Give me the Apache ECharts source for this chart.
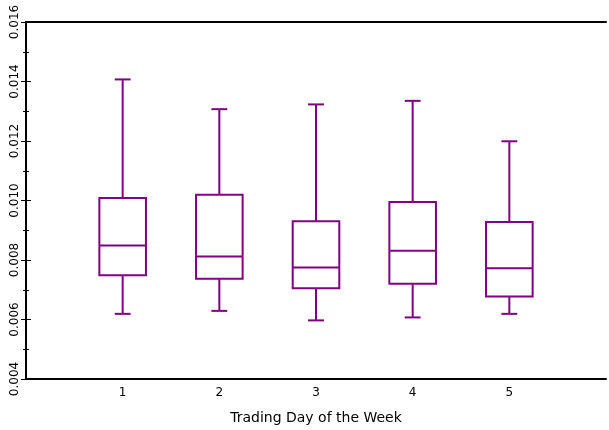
<!DOCTYPE html>
<html>
<head>
<meta charset="utf-8">
<script src="https://cdn.jsdelivr.net/npm/echarts@6/dist/echarts.min.js"></script>
<style>html,body{margin:0;padding:0;background:#fff;overflow:hidden}#c{width:609px;height:430px}</style>
</head>
<body>
<div id="c"></div>
<script>
var days = [1, 2, 3, 4, 5];
var whiskerLow  = [0.00619, 0.00629, 0.00597, 0.00607, 0.00619];
var q1          = [0.00749, 0.00737, 0.00705, 0.00720, 0.00677];
var median      = [0.00849, 0.00812, 0.00775, 0.00831, 0.00772];
var q3          = [0.01008, 0.01019, 0.00930, 0.00995, 0.00928];
var whiskerHigh = [0.01407, 0.01307, 0.01323, 0.01335, 0.01199];
var yTicks = [0.004, 0.006, 0.008, 0.010, 0.012, 0.014, 0.016];
var xTitle = 'Trading Day of the Week';

var COLOR = '#800080';
var BOX_W = 0.482, CAP_W = 0.164;
var data = days.map(function (d, i) {
  return [d, whiskerLow[i], q1[i], median[i], q3[i], whiskerHigh[i]];
});

function renderItem(params, api) {
  var x = api.value(0);
  var pLo = api.coord([x, api.value(1)]);
  var pQ1 = api.coord([x, api.value(2)]);
  var pMed = api.coord([x, api.value(3)]);
  var pQ3 = api.coord([x, api.value(4)]);
  var pHi = api.coord([x, api.value(5)]);
  var bw = api.size([BOX_W, 0])[0];
  var cw = api.size([CAP_W, 0])[0];
  var cx = pMed[0];
  var st = { stroke: COLOR, lineWidth: 2, fill: null };
  function line(x1, y1, x2, y2) {
    return { type: 'line', shape: { x1: x1, y1: y1, x2: x2, y2: y2 }, style: st };
  }
  return {
    type: 'group',
    children: [
      { type: 'rect', shape: { x: cx - bw / 2, y: pQ3[1], width: bw, height: pQ1[1] - pQ3[1] }, style: { stroke: COLOR, lineWidth: 2, fill: 'none' } },
      line(cx - bw / 2, pMed[1], cx + bw / 2, pMed[1]),
      line(cx, pQ3[1], cx, pHi[1]),
      line(cx, pQ1[1], cx, pLo[1]),
      line(cx - cw / 2, pHi[1], cx + cw / 2, pHi[1]),
      line(cx - cw / 2, pLo[1], cx + cw / 2, pLo[1])
    ]
  };
}

var FONT = 'DejaVu Sans';
var chart = echarts.init(document.getElementById('c'), null, { renderer: 'canvas' });
var yCommon = {
  type: 'value', min: yTicks[0], max: yTicks[yTicks.length - 1], interval: 0.002,
  splitLine: { show: false },
  minorTick: { show: true, splitNumber: 2, length: 3, lineStyle: { color: '#000' } },
  axisTick: { show: true, inside: true, length: 5, lineStyle: { color: '#000' } }
};
chart.setOption({
  animation: false,
  grid: { left: 26, right: 0, top: 22, bottom: 47, containLabel: false },
  xAxis: [{
    type: 'value', min: 0, max: 6, interval: 1,
    splitLine: { show: false },
    axisTick: { show: false },
    axisLine: { lineStyle: { color: '#000', width: 2 } },
    axisLabel: {
      color: '#000', fontSize: 12, fontFamily: FONT, margin: 8,
      formatter: function (v) { return days.indexOf(v) >= 0 ? String(v) : ''; }
    },
    name: xTitle, nameLocation: 'middle', nameGap: 32,
    nameTextStyle: { color: '#000', fontSize: 14, fontFamily: FONT }
  }, {
    type: 'value', min: 0, max: 6, position: 'top',
    splitLine: { show: false }, axisTick: { show: false }, axisLabel: { show: false },
    axisLine: { show: true, lineStyle: { color: '#000', width: 2 } }
  }],
  yAxis: [Object.assign({}, yCommon, {
    position: 'left',
    axisLine: { show: true, lineStyle: { color: '#000', width: 2 } },
    axisLabel: {
      color: '#000', fontSize: 12, fontFamily: FONT, rotate: 90, margin: 5,
      formatter: function (v) { return v.toFixed(3); }
    }
  }), Object.assign({}, yCommon, {
    position: 'right',
    axisLine: { show: false },
    axisLabel: { show: false }
  })],
  series: [{
    type: 'custom', renderItem: renderItem, data: data,
    encode: { x: 0, y: [1, 2, 3, 4, 5] }
  }]
});
</script>
</body>
</html>
